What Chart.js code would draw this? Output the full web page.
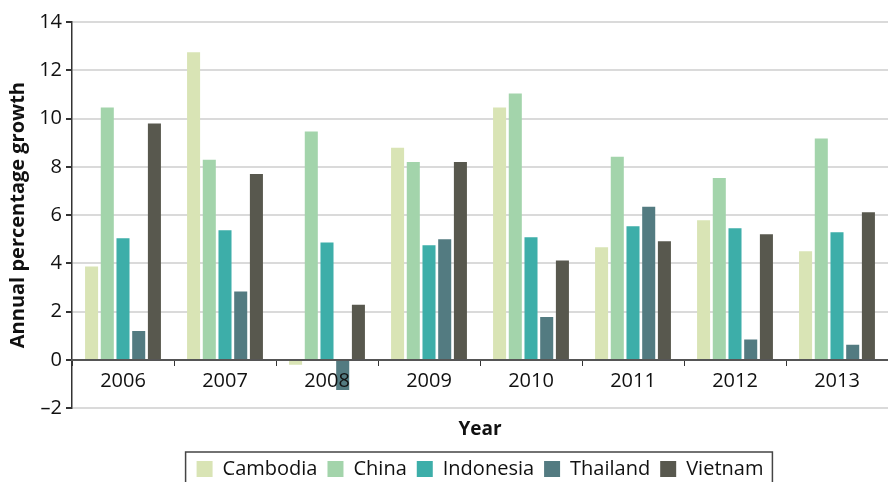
<!DOCTYPE html>
<html>
<head>
<meta charset="utf-8">
<script src="https://cdn.jsdelivr.net/npm/chart.js@4"></script>
<style>
  html, body { margin: 0; padding: 0; background: #fff; overflow: hidden; }
  #wrap { width: 888px; height: 489px; position: relative; }
</style>
</head>
<body>
<div id="wrap"><canvas id="growthChart"></canvas></div>
<script>
const years = ['2006', '2007', '2008', '2009', '2010', '2011', '2012', '2013'];
const cambodia  = [3.87, 12.75, -0.2, 8.79, 10.46, 4.67, 5.79, 4.5];
const china     = [10.46, 8.29, 9.46, 8.2, 11.04, 8.42, 7.54, 9.17];
const indonesia = [5.04, 5.37, 4.87, 4.75, 5.08, 5.54, 5.46, 5.29];
const thailand  = [1.2, 2.83, -1.25, 5.0, 1.78, 6.35, 0.85, 0.63];
const vietnam   = [9.79, 7.7, 2.29, 8.2, 4.12, 4.92, 5.21, 6.12];
const yTicks = [-2, 0, 2, 4, 6, 8, 10, 12, 14];

const FONT = "'Open Sans', 'Noto Sans', sans-serif";

// thin frame round the legend (bottom edge falls outside the window, as in the source)
const legendFrame = {
  id: 'legendFrame',
  afterDraw(chart) {
    const lg = chart.legend;
    if (!lg || !lg.legendHitBoxes || !lg.legendHitBoxes.length) return;
    const hb = lg.legendHitBoxes;
    const left = Math.min(...hb.map(b => b.left)) - 11;
    const right = Math.max(...hb.map(b => b.left + b.width)) + 9;
    const top = 452;
    const ctx = chart.ctx;
    ctx.save();
    ctx.strokeStyle = '#444';
    ctx.lineWidth = 1.5;
    ctx.strokeRect(left, top, right - left, 80);
    ctx.restore();
  }
};

const ds = (label, data, color) => ({
  label, data,
  backgroundColor: color,
  borderWidth: 0,
  categoryPercentage: 0.77,
  barPercentage: 0.83
});

new Chart(document.getElementById('growthChart').getContext('2d'), {
  type: 'bar',
  data: {
    labels: years,
    datasets: [
      ds('Cambodia', cambodia, '#d9e4b5'),
      ds('China', china, '#a3d4ab'),
      ds('Indonesia', indonesia, '#3daea9'),
      ds('Thailand', thailand, '#537b81'),
      ds('Vietnam', vietnam, '#58584e')
    ]
  },
  options: {
    responsive: true,
    maintainAspectRatio: false,
    animation: false,
    layout: { padding: { top: 22, right: 0, left: 0, bottom: 0 } },
    plugins: {
      tooltip: { enabled: false },
      legend: {
        position: 'bottom',
        fullSize: false,
        labels: {
          boxWidth: 16,
          boxHeight: 16,
          padding: 10,
          color: '#111',
          font: { family: FONT, size: 20 }
        }
      }
    },
    scales: {
      x: {
        position: { y: 0 },
        grid: { drawOnChartArea: false, tickLength: 5, tickColor: '#333', offset: true, z: 1 },
        border: { color: '#555', width: 2, z: 1 },
        ticks: { color: '#111', padding: 4, z: 1, font: { family: FONT, size: 20 } },
        title: { display: false }
      },
      // carries only the "Year" title and holds the room under the plot
      xTitle: {
        type: 'category',
        position: 'bottom',
        labels: years,
        grid: { display: false },
        border: { display: false },
        ticks: { display: false },
        title: {
          display: true, text: 'Year', color: '#111',
          font: { family: FONT, size: 19, weight: 'bold' },
          padding: { top: 2, bottom: 8 }
        }
      },
      y: {
        min: -2,
        max: 14,
        afterBuildTicks: s => { s.ticks = yTicks.map(v => ({ value: v })); },
        grid: { color: '#dadada', lineWidth: 2, tickColor: '#333', tickLength: 6 },
        border: { color: '#333', width: 1.5 },
        ticks: {
          color: '#111', padding: 4,
          font: { family: FONT, size: 20 },
          callback: v => (v < 0 ? '\u2013' + Math.abs(v) : String(v))
        },
        title: {
          display: true, text: 'Annual percentage growth', color: '#111',
          font: { family: FONT, size: 20, weight: 'bold' },
          padding: { top: 6, bottom: 4 }
        },
        afterFit: s => { s.width = 72; }
      }
    }
  },
  plugins: [legendFrame]
});
</script>
</body>
</html>
